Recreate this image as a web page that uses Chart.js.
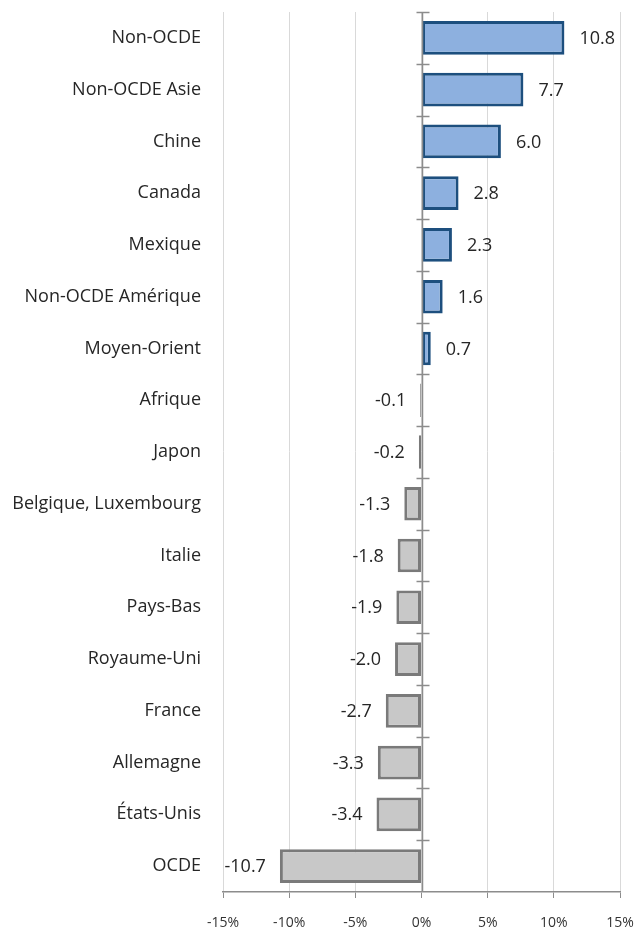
<!DOCTYPE html>
<html><head><meta charset="utf-8">
<script src="https://cdn.jsdelivr.net/npm/chart.js@4.4.1/dist/chart.umd.min.js"></script>
<style>html,body{margin:0;padding:0;background:#fff;overflow:hidden}#wrap{width:635px;height:930px;position:relative}</style>
</head><body><div id="wrap"><canvas id="c"></canvas></div>
<script>
const categories = ["Non-OCDE","Non-OCDE Asie","Chine","Canada","Mexique","Non-OCDE Amérique","Moyen-Orient","Afrique","Japon","Belgique, Luxembourg","Italie","Pays-Bas","Royaume-Uni","France","Allemagne","États-Unis","OCDE"];
const values = [10.8,7.7,6.0,2.8,2.3,1.6,0.7,-0.1,-0.2,-1.3,-1.8,-1.9,-2.0,-2.7,-3.3,-3.4,-10.7];
const xTicks = [-15,-10,-5,0,5,10,15];

const FONT = "'Open Sans', sans-serif";
const zeroAxis = {
  id:'zeroAxis',
  afterDatasetsDraw(chart){
    const {ctx, chartArea, scales:{x,y}} = chart;
    const x0 = Math.round(x.getPixelForValue(0))+0.5;
    ctx.save();
    ctx.strokeStyle='#8c8c8c'; ctx.lineWidth=1.5;
    ctx.beginPath(); ctx.moveTo(x0,chartArea.top); ctx.lineTo(x0,chartArea.bottom); ctx.stroke();
    const n = categories.length;
    const step = y.getPixelForValue(1)-y.getPixelForValue(0);
    for(let i=0;i<n;i++){
      const yy = y.getPixelForValue(i) - step/2;
      ctx.beginPath(); ctx.moveTo(x0-6,Math.round(yy)+0.5); ctx.lineTo(x0+7,Math.round(yy)+0.5); ctx.stroke();
    }
    ctx.fillStyle='#262626'; ctx.font='18px '+FONT; ctx.textBaseline='middle';
    const meta = chart.getDatasetMeta(0);
    meta.data.forEach((bar,i)=>{
      const v = values[i];
      const txt = v.toFixed(1);
      if(v>=0){ ctx.textAlign='left'; ctx.fillText(txt, bar.x+15, bar.y+1); }
      else { ctx.textAlign='right'; ctx.fillText(txt, bar.x-14, bar.y+1); }
    });
    ctx.restore();
  }
};

new Chart(document.getElementById('c'),{
  type:'bar',
  data:{labels:categories,datasets:[{
    data:values,
    backgroundColor: values.map(v=>v>=0?'#8db0df':'#c8c8c8'),
    borderColor: values.map(v=>v>=0?'#1d4f7e':'#7a7a7a'),
    borderWidth:3, borderSkipped:false,
    barPercentage:0.65, categoryPercentage:1
  }]},
  options:{
    indexAxis:'y', responsive:true, maintainAspectRatio:false, animation:false,
    layout:{padding:{top:12,right:15,left:0,bottom:0}},
    plugins:{legend:{display:false},tooltip:{enabled:false}},
    scales:{
      x:{min:-15,max:15,
        afterBuildTicks(s){ s.ticks = xTicks.map(v=>({value:v})); },
        afterFit(s){ s.height=38; s.paddingLeft=0; s.paddingRight=0; },
        grid:{color:'#d9d9d9',lineWidth:1,drawTicks:true,tickLength:6,tickColor:'#8c8c8c'},
        border:{display:true,color:'#8c8c8c',width:1.5},
        ticks:{color:'#333',font:{family:FONT,size:14},padding:17,callback:v=>v+'%',maxRotation:0}
      },
      y:{
        afterFit(s){ s.width=223; s.paddingTop=0; s.paddingBottom=0; },
        grid:{display:false,drawTicks:false},
        border:{display:false},
        ticks:{color:'#262626',font:{family:FONT,size:18},padding:22}
      }
    }
  },
  plugins:[zeroAxis]
});
</script></body></html>
